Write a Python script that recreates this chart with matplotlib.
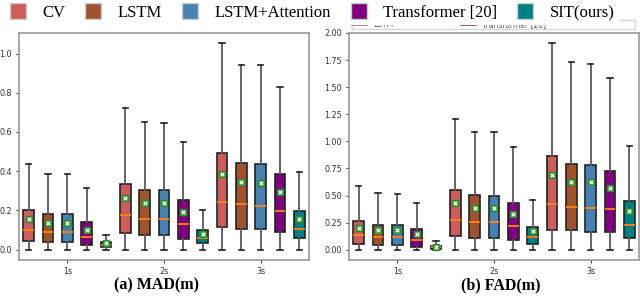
import matplotlib
matplotlib.use("Agg")
import matplotlib.pyplot as plt
from matplotlib.patches import Patch
from matplotlib.lines import Line2D

methods = ["CV", "LSTM", "LSTM+Attention", "Transformer [20]", "SIT(ours)"]
colors = ["#cd5c5c", "#a0522d", "#4682b4", "#800080", "#008080"]
horizons = ["1s", "2s", "3s"]

# MAD (m): per horizon, per method
mad_q1 = [[0.046, 0.039, 0.041, 0.024, 0.012],
          [0.083, 0.075, 0.075, 0.053, 0.032],
          [0.114, 0.107, 0.103, 0.090, 0.058]]
mad_med = [[0.102, 0.092, 0.092, 0.066, 0.025],
           [0.176, 0.156, 0.156, 0.129, 0.058],
           [0.244, 0.231, 0.225, 0.197, 0.105]]
mad_q3 = [[0.203, 0.181, 0.181, 0.141, 0.041],
          [0.337, 0.303, 0.303, 0.253, 0.102],
          [0.492, 0.441, 0.439, 0.385, 0.195]]
mad_mean = [[0.156, 0.136, 0.136, 0.102, 0.032],
            [0.264, 0.236, 0.236, 0.193, 0.081],
            [0.385, 0.346, 0.342, 0.295, 0.154]]
mad_whi = [[0.439, 0.388, 0.385, 0.312, 0.076],
           [0.724, 0.653, 0.647, 0.551, 0.203],
           [1.053, 0.944, 0.941, 0.829, 0.398]]

# FAD (m)
fad_q1 = [[0.052, 0.040, 0.040, 0.025, 0.009],
          [0.123, 0.111, 0.105, 0.092, 0.052],
          [0.185, 0.178, 0.166, 0.163, 0.105]]
fad_med = [[0.132, 0.120, 0.120, 0.089, 0.022],
           [0.274, 0.255, 0.255, 0.215, 0.117],
           [0.422, 0.397, 0.385, 0.372, 0.231]]
fad_q3 = [[0.262, 0.231, 0.231, 0.194, 0.034],
          [0.554, 0.502, 0.495, 0.428, 0.212],
          [0.868, 0.794, 0.778, 0.729, 0.446]]
fad_mean = [[0.203, 0.178, 0.178, 0.142, 0.025],
            [0.431, 0.388, 0.385, 0.332, 0.169],
            [0.686, 0.625, 0.622, 0.566, 0.354]]
fad_whi = [[0.585, 0.523, 0.514, 0.431, 0.077],
           [1.206, 1.086, 1.083, 0.948, 0.458],
           [1.908, 1.735, 1.714, 1.585, 0.954]]

whisker_low = 0.0


def draw(ax, q1, med, q3, mean, whi, ylim, yticks, yfmt):
    stats, cols, pos = [], [], []
    p = 1
    for h in range(len(horizons)):
        for m in range(len(methods)):
            stats.append(dict(q1=q1[h][m], med=med[h][m], q3=q3[h][m],
                              mean=mean[h][m], whislo=whisker_low,
                              whishi=whi[h][m], fliers=[]))
            cols.append(colors[m])
            pos.append(p)
            p += 1
    bp = ax.bxp(stats, positions=pos, widths=0.55, patch_artist=True,
                showmeans=True, showfliers=False,
                boxprops=dict(edgecolor="#222222", linewidth=1.2),
                whiskerprops=dict(color="#5a5a5a", linewidth=1.3),
                capprops=dict(color="#222222", linewidth=1.2),
                medianprops=dict(color="#ff7f0e", linewidth=1.3),
                meanprops=dict(marker="s", markerfacecolor="#4caf50",
                               markeredgecolor="#2e8b2e", markersize=5))
    for b, c in zip(bp["boxes"], cols):
        b.set_facecolor(c)
    ax.scatter(pos, [s["mean"] for s in stats], marker="x", s=6,
               color="white", linewidths=0.8, zorder=5)
    ax.set_xlim(0.5, len(pos) + 0.5)
    ax.set_ylim(*ylim)
    ax.set_xticks([3, 8, 13])
    ax.set_xticklabels(horizons)
    ax.set_yticks(yticks)
    ax.set_yticklabels([yfmt.format(v) for v in yticks])
    ax.tick_params(labelsize=5.8, length=2.5, pad=2.7, color="#444444",
                   labelcolor="#333333")
    for s in ax.spines.values():
        s.set_color("#999999")
        s.set_linewidth(1.2)


fig = plt.figure(figsize=(6.4, 2.98), dpi=100)
ax1 = fig.add_axes([19 / 640, 38 / 298, 290 / 640, 227 / 298])
ax2 = fig.add_axes([349 / 640, 38 / 298, 290 / 640, 227 / 298])

draw(ax1, mad_q1, mad_med, mad_q3, mad_mean, mad_whi, (-0.053, 1.105),
     [0.0, 0.2, 0.4, 0.6, 0.8, 1.0], "{:.1f}")
draw(ax2, fad_q1, fad_med, fad_q3, fad_mean, fad_whi, (-0.095, 2.0),
     [0.0, 0.25, 0.5, 0.75, 1.0, 1.25, 1.5, 1.75, 2.0], "{:.2f}")

serif = ["Liberation Serif", "DejaVu Serif"]

# small, mostly hidden legend of the right panel
small = [Line2D([], [], color=colors[1], lw=1.2),
         Line2D([], [], color=colors[3], lw=1.2),
         Line2D([], [], color="none")]
fig.legend(small, [methods[1], methods[3], ""], loc="lower left",
           bbox_to_anchor=(348 / 640, 1 - 33 / 298, 291 / 640, 0.02),
           mode="expand", ncol=3, fontsize=5.5, frameon=True,
           fancybox=False, edgecolor="#cccccc", borderpad=0.0,
           handlelength=2.0, labelcolor="#555555")

handles = [Patch(facecolor=c, edgecolor="#cccccc") for c in colors]
fig.legend(handles, methods, loc="upper left", bbox_to_anchor=(-0.003, 1.028),
           ncol=5, prop={"family": serif, "size": 12}, frameon=True,
           facecolor="white", edgecolor="white", framealpha=1.0,
           handlelength=0.95, handleheight=1.1, handletextpad=1.0,
           columnspacing=1.2, borderpad=0.2)

fig.text(157 / 640, 13 / 298, "(a) MAD(m)", ha="center", va="center",
         family=serif, fontsize=11.5, fontweight="bold")
fig.text(501 / 640, 13 / 298, "(b) FAD(m)", ha="center", va="center",
         family=serif, fontsize=11.5, fontweight="bold")

fig.savefig("out.png", dpi=100)
